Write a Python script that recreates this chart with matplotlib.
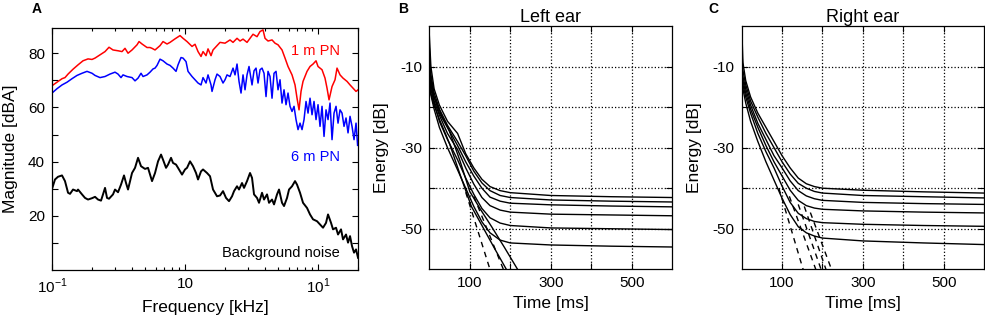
import matplotlib
matplotlib.use("Agg")
import matplotlib.pyplot as plt
from matplotlib.ticker import FixedLocator, FixedFormatter, LogLocator, NullFormatter

plt.rcParams['font.family'] = ['Liberation Sans', 'DejaVu Sans']
plt.rcParams['mathtext.fontset'] = 'custom'
plt.rcParams['mathtext.rm'] = 'Liberation Sans'

# ---- panel A: spectra (kHz, dBA) ----
red_f = [0.100, 0.109, 0.119, 0.1252, 0.1320, 0.1439, 0.1569, 0.1710, 0.1865, 0.1999,
         0.2106, 0.2296, 0.2504, 0.2683, 0.2875, 0.3136, 0.3360, 0.3539, 0.3729, 0.3996,
         0.4358, 0.4512, 0.4752, 0.5181, 0.5457, 0.5650, 0.5951, 0.6489, 0.6835, 0.7325,
         0.7715, 0.8414, 0.9174, 0.9663, 1.0356, 1.1292, 1.1894, 1.2528, 1.3196, 1.3660,
         1.4389, 1.4896, 1.5690, 1.6243, 1.7407, 1.8335, 1.9993, 2.1800, 2.2963, 2.4609,
         2.5921, 2.7304, 2.9261, 3.0821, 3.2464, 3.4792, 3.6646, 3.8600, 3.9960, 4.2090,
         4.5109, 4.7513, 5.0046, 5.3635, 5.6494, 5.9506, 6.3773, 6.7172, 6.9539, 7.1989,
         7.4526, 7.7151, 8.2683, 8.7090, 9.1734, 9.6625, 10.003, 10.720, 11.291, 11.690,
         12.102, 12.747, 13.426, 13.899, 14.640, 15.421, 16.527, 17.408, 18.336, 19.314, 19.994]
red_db = [68.0, 69.3, 70.6, 71.0, 72.3, 74.1, 75.7, 77.2, 77.9, 77.7,
          78.2, 79.4, 80.6, 82.2, 81.2, 80.9, 80.6, 81.8, 80.0, 81.2,
          83.1, 84.3, 83.4, 82.1, 82.1, 81.8, 81.2, 82.8, 84.3, 83.4,
          84.0, 85.3, 86.5, 85.5, 84.3, 82.5, 83.3, 80.6, 78.8, 80.6,
          79.1, 81.6, 79.1, 81.2, 82.8, 84.0, 83.7, 84.9, 84.0, 85.5,
          84.5, 85.2, 84.0, 85.5, 87.0, 86.1, 88.0, 88.6, 85.5, 84.5,
          84.9, 83.7, 83.1, 81.2, 78.2, 75.1, 72.0, 68.3, 63.4, 59.1,
          65.9, 69.6, 73.3, 75.1, 76.0, 77.2, 75.1, 73.9, 70.8, 67.1,
          62.8, 67.7, 70.2, 74.5, 72.0, 70.8, 69.6, 68.3, 67.1, 65.9, 66.5]

blue_f = [0.100, 0.109, 0.119, 0.1297, 0.1414, 0.1542, 0.1681, 0.1833, 0.1999, 0.2106,
          0.2296, 0.2504, 0.2730, 0.2977, 0.3136, 0.3302, 0.3419, 0.3665, 0.3996, 0.4209,
          0.4434, 0.4670, 0.4835, 0.5181, 0.5457, 0.5749, 0.5951, 0.6161, 0.6489, 0.6835,
          0.7325, 0.7715, 0.8127, 0.8561, 0.8862, 0.9334, 0.9663, 1.0178, 1.0537, 1.1292,
          1.1894, 1.2528, 1.3196, 1.3660, 1.4389, 1.4896, 1.5690, 1.5964, 1.6815, 1.7407,
          1.8335, 1.9312, 1.9993, 2.0697, 2.1800, 2.2963, 2.3772, 2.4609, 2.5476, 2.6374,
          2.7304, 2.8265, 2.9261, 3.0292, 3.1907, 3.3031, 3.4195, 3.5399, 3.6646, 3.7938,
          3.9275, 4.0658, 4.2090, 4.3574, 4.5109, 4.6698, 4.8343, 5.0046, 5.1810, 5.3635,
          5.5525, 5.7481, 5.9506, 6.1603, 6.3773, 6.6020, 6.8345, 7.0753, 7.3247, 7.5827,
          7.8498, 8.1264, 8.4127, 8.7090, 9.0160, 9.3336, 9.6625, 10.003, 10.355, 10.720,
          11.098, 11.489, 11.894, 12.313, 12.747, 13.196, 13.661, 14.142, 14.640, 15.156,
          15.690, 16.243, 16.816, 17.408, 18.021, 18.656, 19.314, 19.85]
blue_db = [65.3, 66.9, 68.3, 69.3, 70.6, 71.8, 72.6, 73.3, 72.6, 71.8,
           71.0, 71.4, 72.3, 73.0, 72.3, 71.0, 72.0, 71.4, 71.0, 69.8,
           70.8, 72.6, 71.4, 72.0, 73.0, 74.2, 74.5, 75.5, 77.8, 77.2,
           76.0, 75.5, 74.5, 73.3, 75.7, 78.4, 78.2, 76.9, 73.3, 71.4,
           70.2, 69.0, 68.3, 71.0, 69.0, 72.0, 68.3, 65.9, 70.2, 72.3,
           71.4, 69.0, 70.2, 72.0, 71.4, 74.5, 72.0, 76.0, 69.6, 65.3,
           72.0, 66.5, 72.0, 75.1, 68.3, 73.5, 74.5, 69.0, 73.9, 74.5,
           72.6, 64.0, 73.3, 71.4, 63.4, 72.6, 73.3, 66.5, 70.2, 61.6,
           66.5, 61.0, 65.3, 60.4, 58.5, 60.4, 55.5, 51.8, 54.2, 51.8,
           55.5, 62.2, 57.9, 63.4, 57.3, 62.2, 55.5, 61.0, 53.0, 60.4,
           49.3, 59.1, 55.5, 61.6, 48.1, 57.9, 60.4, 54.2, 59.1, 57.9,
           53.0, 56.1, 50.6, 56.7, 53.0, 48.1, 54.2, 46.0]

noise_f = [0.100, 0.1053, 0.1109, 0.1189, 0.1252, 0.1320, 0.1366, 0.1439, 0.1542, 0.1569,
           0.1681, 0.1771, 0.1865, 0.1999, 0.2106, 0.2218, 0.2336, 0.2418, 0.2504, 0.2592,
           0.2683, 0.2875, 0.2977, 0.3136, 0.3302, 0.3478, 0.3602, 0.3729, 0.3996, 0.4209,
           0.4434, 0.4670, 0.5005, 0.5271, 0.5650, 0.5951, 0.6269, 0.6603, 0.6835, 0.7199,
           0.7453, 0.7851, 0.8127, 0.8561, 0.8862, 0.9497, 1.0003, 1.0356, 1.0908, 1.1489,
           1.2102, 1.2528, 1.3196, 1.3660, 1.4640, 1.5420, 1.6243, 1.7407, 1.8335, 1.9312,
           2.0342, 2.1426, 2.2569, 2.3364, 2.4609, 2.5476, 2.6835, 2.7780, 2.9261, 3.0821,
           3.1907, 3.3031, 3.4792, 3.6018, 3.7938, 3.9275, 4.1368, 4.2825, 4.5109, 4.6698,
           4.9187, 5.0920, 5.3635, 5.5525, 5.8485, 6.0545, 6.3773, 6.7172, 6.9539, 7.3247,
           7.7151, 8.2683, 8.7090, 9.1734, 9.8312, 10.355, 10.907, 11.489, 11.894, 12.528,
           12.970, 13.661, 14.142, 14.896, 15.421, 16.243, 16.816, 17.408, 18.021, 18.656,
           19.314, 19.994]
noise_db = [29.9, 33.4, 34.4, 34.9, 32.8, 28.5, 28.1, 29.7, 29.1, 29.7,
            27.9, 26.6, 26.0, 26.5, 27.0, 26.0, 25.6, 27.9, 30.3, 26.6,
            26.3, 27.9, 29.7, 28.7, 31.5, 34.9, 32.1, 29.7, 35.8, 37.7,
            41.4, 38.3, 37.3, 37.7, 32.8, 35.8, 40.1, 42.6, 40.7, 37.7,
            38.9, 41.4, 39.5, 38.9, 37.7, 35.2, 37.1, 37.7, 40.1, 38.3,
            35.8, 33.4, 36.4, 37.1, 35.8, 34.6, 29.7, 27.2, 27.5, 29.1,
            26.6, 25.4, 27.2, 29.1, 30.9, 29.7, 32.1, 30.3, 32.8, 35.8,
            34.0, 27.9, 26.6, 24.8, 28.5, 26.0, 27.9, 24.8, 26.0, 24.2,
            27.9, 29.7, 24.8, 23.6, 26.6, 29.7, 30.9, 32.8, 31.5, 28.5,
            24.8, 22.9, 20.5, 18.7, 18.0, 16.8, 15.6, 17.4, 20.5, 17.4,
            15.0, 15.6, 13.1, 15.0, 11.3, 13.1, 10.1, 12.5, 8.8, 6.4,
            7.6, 4.5]

# ---- panel B: left ear energy decay (ms, dB) ----
left_t = [0, 4, 12, 25, 45, 70, 90, 110, 130, 150, 175, 200, 300, 450, 600]
left_db = [
    [-2, -10, -15.5, -19.5, -23.5, -26.5, -31.5, -35, -37.8, -39.6, -40.6, -41.1, -41.8, -42.1, -42.3],
    [-5, -12, -16.5, -20.5, -24.5, -28.5, -32, -35.8, -38.7, -40.6, -41.8, -42.3, -42.9, -43.2, -43.4],
    [-8, -13, -17.5, -21.5, -25, -29.5, -33.5, -37, -40, -42.2, -43.2, -43.7, -44.1, -44.4, -44.6],
    [-10, -14, -18.5, -22, -26.5, -30.5, -35, -39, -42.3, -44.3, -45.4, -45.9, -46.4, -46.6, -46.8],
    [-12, -15.5, -19, -23.5, -28, -33, -37.5, -41.5, -45, -47.3, -48.6, -49.2, -49.8, -50, -50.2],
    [-14, -17, -20.5, -25, -30, -35.5, -40, -44.5, -48.3, -51, -52.8, -53.5, -54, -54.3, -54.5],
]
left_fall_t = [[0, 10, 25, 50, 79, 104, 129, 162, 188, 196],
               [0, 10, 30, 50, 75, 100, 125, 154, 185, 218, 224]]
left_fall_db = [[-15, -19, -23, -29, -37.5, -44.5, -49, -55, -59.6, -61],
                [-13, -17, -22, -26, -33, -40.8, -45, -49.5, -54.5, -60, -61]]
left_fit_t = [[90, 153], [110, 187]]
left_fit_db = [[-41, -61], [-42, -61]]

# ---- panel C: right ear energy decay (ms, dB) ----
right_t = [0, 3, 10, 22, 40, 60, 80, 100, 120, 140, 160, 180, 200, 300, 450, 600]
right_db = [
    [0, -9, -13.5, -17.5, -21.5, -25, -28.5, -32, -35, -37.5, -38.9, -39.6, -40, -40.5, -40.9, -41.2],
    [-5, -11, -14.5, -18.5, -22.5, -26.5, -30, -33.5, -36.5, -38.8, -40, -40.8, -41.2, -41.8, -42.1, -42.4],
    [-9, -12.5, -15.5, -19.5, -24, -28, -32, -35, -38.2, -40.6, -41.9, -42.6, -43, -43.5, -43.8, -44],
    [-11, -13.5, -16.5, -20.5, -25, -29.5, -33.5, -37, -40.5, -43, -44.3, -44.9, -45.2, -45.6, -45.9, -46.1],
    [-12, -14.5, -17.5, -21.5, -26.5, -31, -35, -39.5, -43.5, -46.2, -47.5, -48.2, -48.5, -48.9, -49.2, -49.4],
    [-13, -15.5, -19, -23.5, -28.5, -33.5, -38, -42.5, -46.5, -49.5, -51, -51.8, -52.3, -53, -53.5, -53.9],
]
right_fit_t = [[92, 155], [118, 187], [140, 200], [155, 212], [170, 226]]
right_fit_db = [[-40, -61], [-42, -61], [-44, -61], [-44.5, -61], [-46, -61]]


def style_axes(ax):
    ax.tick_params(which='both', direction='in', top=True, right=True,
                   labelsize=11, width=0.8, pad=5)
    ax.tick_params(which='major', length=4)
    ax.tick_params(which='minor', length=2.5)
    for s in ax.spines.values():
        s.set_linewidth(0.9)


fig = plt.figure(figsize=(9.85, 3.19), dpi=100)

# panel A
axA = fig.add_axes([0.0528, 0.1536, 0.3107, 0.7586])
axA.semilogx(red_f, red_db, color='#ff0000', lw=1.1)
axA.semilogx(blue_f, blue_db, color='#0000ff', lw=1.1)
axA.semilogx(noise_f, noise_db, color='black', lw=1.4)
axA.set_xlim(0.1, 20)
axA.set_ylim(0, 89.3)
axA.xaxis.set_major_locator(FixedLocator([0.1, 1, 10]))
axA.xaxis.set_major_formatter(FixedFormatter(['$10^{-1}$', '10', '$10^{1}$']))
axA.xaxis.set_minor_locator(LogLocator(base=10, subs=range(2, 10)))
axA.xaxis.set_minor_formatter(NullFormatter())
yt = list(range(10, 90, 10))
axA.set_yticks(yt)
axA.set_yticklabels([str(v) if v % 20 == 0 else '' for v in yt])
style_axes(axA)
axA.set_xlabel('Frequency [kHz]', fontsize=12.5, labelpad=3)
axA.set_ylabel('Magnitude [dBA]', fontsize=12.5, labelpad=7)
axA.text(0.941, 0.905, '1 m PN', color='#ff0000', fontsize=10.5, ha='right', va='center', transform=axA.transAxes)
axA.text(0.941, 0.467, '6 m PN', color='#0000ff', fontsize=10.5, ha='right', va='center', transform=axA.transAxes)
axA.text(0.941, 0.070, 'Background noise', color='black', fontsize=10.5, ha='right', va='center', transform=axA.transAxes)


def decay_panel(rect, title, t, curves, fit_t, fit_db, fall_t=(), fall_db=()):
    ax = fig.add_axes(rect)
    for db in curves:
        ax.plot(t, db, color='black', lw=1.0)
    for tt, db in zip(fall_t, fall_db):
        ax.plot(tt, db, color='black', lw=1.0)
    for tt, db in zip(fit_t, fit_db):
        ax.plot(tt, db, color='black', lw=1.0, ls=(0, (4, 3.5)))
    ax.set_xlim(0, 600)
    ax.set_ylim(-60, 0)
    xt = [100, 200, 300, 400, 500]
    ax.set_xticks(xt)
    ax.set_xticklabels([str(v) if v in (100, 300, 500) else '' for v in xt])
    yt = [-50, -40, -30, -20, -10]
    ax.set_yticks(yt)
    ax.set_yticklabels([str(v) if v in (-10, -30, -50) else '' for v in yt])
    ax.grid(True, color='black', ls=':', lw=0.9)
    style_axes(ax)
    ax.set_title(title, fontsize=13, pad=1)
    ax.set_xlabel('Time [ms]', fontsize=12.5, labelpad=4)
    ax.set_ylabel('Energy [dB]', fontsize=12.5, labelpad=8)
    return ax


axB = decay_panel([0.4358, 0.1558, 0.2467, 0.7627], 'Left ear', left_t, left_db,
                  left_fit_t, left_fit_db, left_fall_t, left_fall_db)
axC = decay_panel([0.7530, 0.1558, 0.2460, 0.7627], 'Right ear', right_t, right_db,
                  right_fit_t, right_fit_db)

for lab, xp in (('A', 37), ('B', 403), ('C', 713)):
    fig.text(xp / 985, 1 - 9 / 319, lab, fontsize=10, fontweight='bold', ha='center', va='center')

fig.savefig('out.png', dpi=100)
